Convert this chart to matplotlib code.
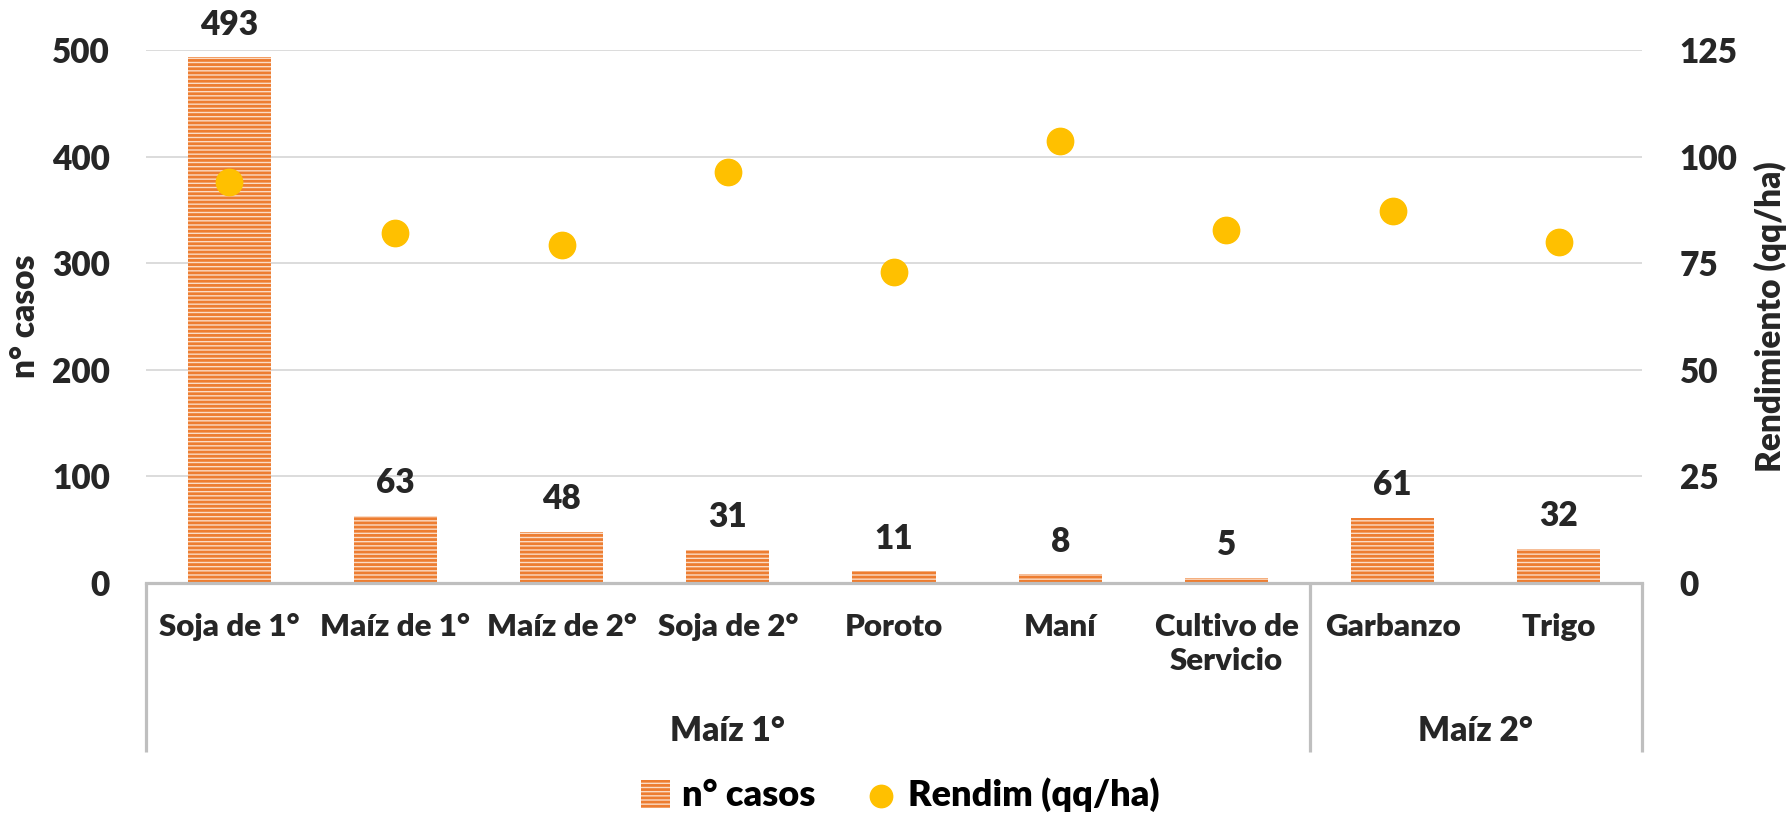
import matplotlib.pyplot as plt
import numpy as np

plt.rcParams['font.family'] = ['Lato', 'DejaVu Sans']
plt.rcParams['font.weight'] = 'heavy'
plt.rcParams['hatch.linewidth'] = 2.0

# data
cultivos = ['Soja de 1°', 'Maíz de 1°', 'Maíz de 2°', 'Soja de 2°', 'Poroto',
            'Maní', 'Cultivo de\nServicio', 'Garbanzo', 'Trigo']
n_casos = [493, 63, 48, 31, 11, 8, 5, 61, 32]
rendim = [94.1, 82.0, 79.2, 96.5, 72.9, 103.6, 82.9, 87.2, 79.9]
grupos = ['Maíz 1°', 'Maíz 2°']
grupo_size = [7, 2]

orange = '#ED7D31'
peach = '#FBDCC6'
gold = '#FFC000'
grid_c = '#D9D9D9'
axis_c = '#BFBFBF'
txt_c = '#262626'
fs = 24
fw = 'heavy'

fig = plt.figure(figsize=(17.87, 8.13), dpi=100)
ax = fig.add_axes([146 / 1787, 1 - 583 / 813, (1642 - 146) / 1787, 533 / 813])
ax2 = ax.twinx()

x = np.arange(len(cultivos))
bars = ax.bar(x, n_casos, width=0.5, color=peach, edgecolor=orange, linewidth=0,
              hatch='----', label='n° casos', zorder=2)
for xi, v in zip(x, n_casos):
    ax.annotate(str(v), (xi, v), xytext=(0, 12), textcoords='offset points',
                ha='center', va='bottom', fontsize=fs, fontweight=fw, color=txt_c)

ax2.scatter(x, rendim, s=360, color=gold, zorder=3, label='Rendim (qq/ha)')

ax.set_xlim(-0.5, len(cultivos) - 0.5)
ax.set_ylim(0, 500)
ax.set_yticks(range(0, 501, 100))
ax2.set_ylim(0, 125)
ax2.set_yticks(range(0, 126, 25))

ax.yaxis.grid(True, color=grid_c, linewidth=1.3, zorder=0)
ax.set_axisbelow(True)
for a in (ax, ax2):
    for s in a.spines.values():
        s.set_visible(False)
    a.tick_params(length=0, labelsize=fs, colors=txt_c)
ax.tick_params(axis='y', pad=26)
ax2.tick_params(axis='y', pad=27)
ax.set_xticks([])
ax.spines['bottom'].set_visible(True)
ax.spines['bottom'].set_color(axis_c)
ax.spines['bottom'].set_linewidth(2.3)

ax.set_ylabel('n° casos', fontsize=fs, fontweight=fw, color=txt_c, labelpad=8)
ax2.set_ylabel('Rendimiento (qq/ha)', fontsize=fs, fontweight=fw, color=txt_c, labelpad=12)

# multi-level category axis
tr = ax.get_xaxis_transform()
depth = -(752 - 583) / 533
for xi, lab in zip(x, cultivos):
    ax.text(xi, -0.057, lab, transform=tr, ha='center', va='top', fontsize=22.5,
            fontweight=fw, color=txt_c, linespacing=1.25)
edges = np.concatenate([[0], np.cumsum(grupo_size)]) - 0.5
for e in edges:
    ax.plot([e, e], [0, depth], transform=tr, color=axis_c, linewidth=2.3,
            clip_on=False, solid_capstyle='butt')
for g, a0, a1 in zip(grupos, edges[:-1], edges[1:]):
    ax.text((a0 + a1) / 2, -(731 - 583) / 533, g, transform=tr, ha='center', va='center',
            fontsize=fs, fontweight=fw, color=txt_c)

h1, l1 = ax.get_legend_handles_labels()
h2, l2 = ax2.get_legend_handles_labels()
fig.legend(h1 + h2, l1 + l2, loc='center', bbox_to_anchor=(900 / 1787, 1 - 795 / 813),
           ncol=2, frameon=False, prop={'size': 26, 'weight': fw},
           handlelength=0.8, handleheight=0.8,
           handletextpad=0.35, columnspacing=1.4, markerscale=0.85)

fig.savefig('out.png', dpi=100, facecolor='white')
